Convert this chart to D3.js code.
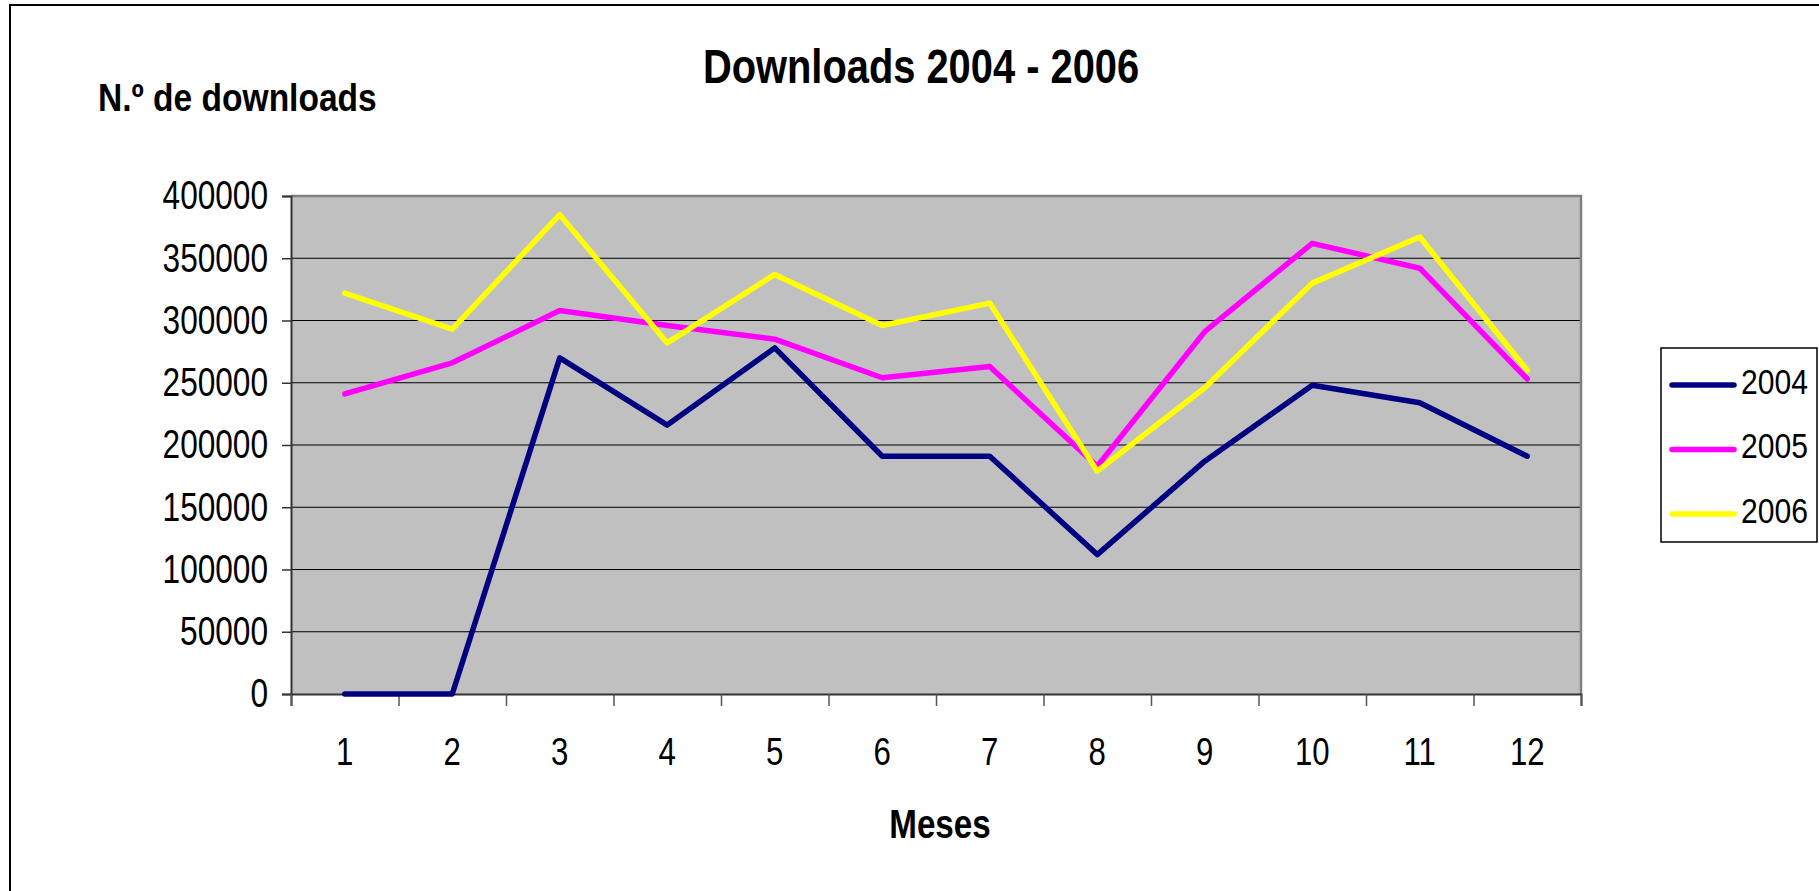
<!DOCTYPE html>
<html>
<head>
<meta charset="utf-8">
<script src="https://cdn.jsdelivr.net/npm/d3@7"></script>
<style>
    body { margin: 0; background: #fff; }
    text { font-family: Arial, "Liberation Sans", sans-serif; fill: #000; }
</style>
</head>
<body>
<svg id="chart" width="1819" height="891"></svg>
<script>
// 数据
const months = ["1", "2", "3", "4", "5", "6", "7", "8", "9", "10", "11", "12"];
const seriesNames = ["2004", "2005", "2006"];
const seriesColors = ["#000080", "#ff00ff", "#ffff00"];
const values2004 = [0, 0, 270000, 216000, 278000, 191000, 191000, 112000, 187000, 248000, 234000, 191000];
const values2005 = [241000, 266000, 308000, 296000, 285000, 254000, 263000, 183000, 291000, 362000, 342000, 253000];
const values2006 = [322000, 293000, 385000, 282000, 337000, 296000, 314000, 179000, 246000, 330000, 367000, 260000];
const yTicks = [0, 50000, 100000, 150000, 200000, 250000, 300000, 350000, 400000];

const series = [values2004, values2005, values2006];

const svg = d3.select("#chart");

// 绘图区域
const plot = { left: 291, right: 1581, top: 196, bottom: 694 };

// 文字水平压缩（原图字体较窄）
function squeeze(sel, k) {
    sel.each(function () {
        const len = this.getComputedTextLength();
        d3.select(this)
            .attr("textLength", len * k)
            .attr("lengthAdjust", "spacingAndGlyphs");
    });
}

// 外框（只露出上边和左边）
svg.append("rect")
    .attr("x", 10).attr("y", 5)
    .attr("width", 1900).attr("height", 1000)
    .attr("fill", "none")
    .attr("stroke", "#000")
    .attr("stroke-width", 2);

// 比例尺
const x = d3.scaleBand().domain(months).range([plot.left, plot.right]).padding(0);
const xEdge = d3.scaleLinear().domain([0, months.length]).range([plot.left, plot.right]);
const y = d3.scaleLinear().domain([0, 400000]).range([plot.bottom, plot.top]);

// 背景
svg.append("rect")
    .attr("x", plot.left).attr("y", plot.top)
    .attr("width", plot.right - plot.left)
    .attr("height", plot.bottom - plot.top)
    .attr("fill", "#c0c0c0");

// 网格线
svg.append("g")
    .selectAll("line")
    .data(yTicks.filter(v => v > 0 && v < 400000))
    .join("line")
    .attr("x1", plot.left).attr("x2", plot.right)
    .attr("y1", d => y(d)).attr("y2", d => y(d))
    .attr("stroke", "#000")
    .attr("stroke-width", 1.2);

// 绘图区边框（上、右为灰色）
svg.append("path")
    .attr("d", `M${plot.left},${plot.top}H${plot.right}V${plot.bottom}`)
    .attr("fill", "none")
    .attr("stroke", "#808080")
    .attr("stroke-width", 2.5);

// Y轴
const yAxis = svg.append("g")
    .attr("transform", `translate(${plot.left},0)`)
    .call(d3.axisLeft(y).tickValues(yTicks).tickSize(9).tickPadding(14).tickFormat(d3.format("d")));
yAxis.select(".domain").attr("stroke", "#333").attr("stroke-width", 2);
yAxis.selectAll(".tick line").attr("stroke", "#333").attr("stroke-width", 1.5);
yAxis.selectAll("text")
    .attr("font-size", 40)
    .attr("font-family", "Arial, 'Liberation Sans', sans-serif")
    .attr("fill", "#000")
    .call(squeeze, 0.79);

// X轴刻度线（在类别边界）
const xTickAxis = svg.append("g")
    .attr("transform", `translate(0,${plot.bottom})`)
    .call(d3.axisBottom(xEdge).tickValues(d3.range(0, months.length + 1)).tickSize(12).tickFormat(""));
xTickAxis.select(".domain").attr("stroke", "#333").attr("stroke-width", 2);
xTickAxis.selectAll(".tick line").attr("stroke", "#555").attr("stroke-width", 1.5);

// X轴标签（类别中心）
const xLabelAxis = svg.append("g")
    .attr("transform", `translate(0,${plot.bottom})`)
    .call(d3.axisBottom(x).tickSize(0).tickPadding(44));
xLabelAxis.select(".domain").remove();
xLabelAxis.selectAll("text")
    .attr("font-size", 38)
    .attr("font-family", "Arial, 'Liberation Sans', sans-serif")
    .attr("fill", "#000")
    .call(squeeze, 0.82);

// 折线
const line = d3.line()
    .x((d, i) => x(months[i]) + x.bandwidth() / 2)
    .y(d => y(d));

svg.append("g")
    .selectAll("path")
    .data(series)
    .join("path")
    .attr("d", d => line(d))
    .attr("fill", "none")
    .attr("stroke", (d, i) => seriesColors[i])
    .attr("stroke-width", 5.5)
    .attr("stroke-linejoin", "round")
    .attr("stroke-linecap", "round");

// 标题
svg.append("text")
    .attr("x", 921).attr("y", 83)
    .attr("text-anchor", "middle")
    .attr("font-size", 48)
    .attr("font-weight", "bold")
    .text("Downloads 2004 - 2006")
    .call(squeeze, 0.83);

// Y轴标题
svg.append("text")
    .attr("x", 98).attr("y", 111)
    .attr("font-size", 39)
    .attr("font-weight", "bold")
    .text("N.º de downloads")
    .call(squeeze, 0.86);

// X轴标题
svg.append("text")
    .attr("x", 940).attr("y", 838)
    .attr("text-anchor", "middle")
    .attr("font-size", 40)
    .attr("font-weight", "bold")
    .text("Meses")
    .call(squeeze, 0.83);

// 图例
const legend = svg.append("g");
legend.append("rect")
    .attr("x", 1661).attr("y", 348)
    .attr("width", 156).attr("height", 194)
    .attr("fill", "#fff")
    .attr("stroke", "#000")
    .attr("stroke-width", 1.5);

const legendRow = legend.selectAll(".legend-row")
    .data(seriesNames)
    .join("g")
    .attr("class", "legend-row")
    .attr("transform", (d, i) => `translate(0,${385 + i * 64.5})`);

legendRow.append("line")
    .attr("x1", 1672).attr("x2", 1734)
    .attr("y1", 0).attr("y2", 0)
    .attr("stroke", (d, i) => seriesColors[i])
    .attr("stroke-width", 5.5)
    .attr("stroke-linecap", "round");

legendRow.append("text")
    .attr("x", 1741).attr("y", 8.5)
    .attr("font-size", 35)
    .attr("textLength", 67)
    .attr("lengthAdjust", "spacingAndGlyphs")
    .text(d => d);
</script>
</body>
</html>
